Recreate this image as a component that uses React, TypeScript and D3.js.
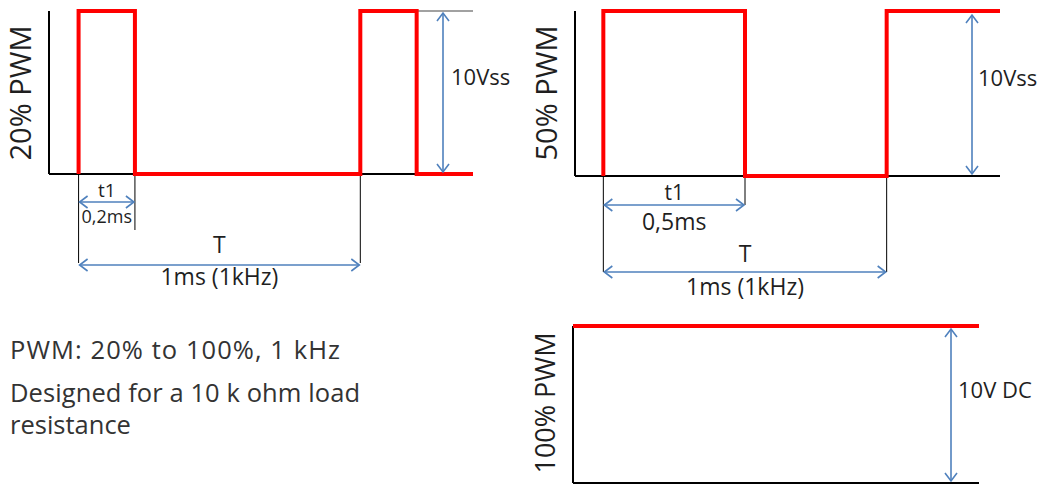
import React from "react";
import * as d3 from "d3";

// ---- data ----
const pwm20Times = [0, 0, 0.2, 1.0, 1.2, 1.4];
const pwm20Levels = [0, 10, 0, 10, 0, 0];
const pwm50Times = [0, 0, 0.5, 1.0, 1.4];
const pwm50Levels = [0, 10, 0, 10, 10];
const pwm100Times = [0, 1];
const pwm100Levels = [10, 10];

const panelLabels = ["20% PWM", "50% PWM", "100% PWM"];
const amplitudeLabels = ["10Vss", "10Vss", "10V DC"];
const dutyLabels = ["0,2ms", "0,5ms"];
const dutyTimes = [0.2, 0.5];
const periodLabel = "1ms (1kHz)";
const noteLines = ["PWM: 20% to 100%, 1 kHz", "Designed for a 10 k ohm load", "resistance"];
const noteWidths = [330, 350, 0];

const RED = "#ff0000";
const BLUE = "#4f81bd";
const INK = "#1f1f1f";
const FONT = "'Open Sans', 'DejaVu Sans', sans-serif";

type Pt = { t: number; v: number };
const toPts = (ts: number[], vs: number[]): Pt[] => ts.map((t, i) => ({ t, v: vs[i] }));

function Chevron({ x, y, dir }: { x: number; y: number; dir: "up" | "down" | "left" | "right" }) {
  const L = 8, W = 6;
  let d = "";
  if (dir === "up") d = `M${x - W},${y + L}L${x},${y}L${x + W},${y + L}`;
  if (dir === "down") d = `M${x - W},${y - L}L${x},${y}L${x + W},${y - L}`;
  if (dir === "left") d = `M${x + L},${y - W}L${x},${y}L${x + L},${y + W}`;
  if (dir === "right") d = `M${x - L},${y - W}L${x},${y}L${x - L},${y + W}`;
  return <path d={d} fill="none" stroke={BLUE} strokeWidth={1.6} />;
}

function HArrow({ x1, x2, y }: { x1: number; x2: number; y: number }) {
  return (
    <g>
      <line x1={x1} x2={x2} y1={y} y2={y} stroke={BLUE} strokeWidth={1.6} />
      <Chevron x={x1} y={y} dir="left" />
      <Chevron x={x2} y={y} dir="right" />
    </g>
  );
}

function VArrow({ x, y1, y2 }: { x: number; y1: number; y2: number }) {
  return (
    <g>
      <line x1={x} x2={x} y1={y1} y2={y2} stroke={BLUE} strokeWidth={1.6} />
      <Chevron x={x} y={y1} dir="up" />
      <Chevron x={x} y={y2} dir="down" />
    </g>
  );
}

function RotLabel({ x, y, text, size }: { x: number; y: number; text: string; size: number }) {
  return (
    <text
      transform={`translate(${x},${y}) rotate(-90)`}
      textAnchor="middle"
      fontFamily={FONT}
      fontSize={size}
      fill={INK}
    >
      {text}
    </text>
  );
}

export default function App() {
  // panel 1: 20%
  const x1 = d3.scaleLinear().domain([-0.105, 1.4]).range([49, 473]);
  const y1 = d3.scaleLinear().domain([0, 10]).range([174, 11]);
  const line1 = d3
    .line<Pt>()
    .x((d) => x1(d.t))
    .y((d) => y1(d.v))
    .curve(d3.curveStepAfter);

  // panel 2: 50%
  const x2 = d3.scaleLinear().domain([-0.1, 1.4]).range([575, 1000]);
  const y2 = d3.scaleLinear().domain([0, 10]).range([176, 11]);
  const line2 = d3
    .line<Pt>()
    .x((d) => x2(d.t))
    .y((d) => y2(d.v))
    .curve(d3.curveStepAfter);

  // panel 3: 100%
  const x3 = d3.scaleLinear().domain([0, 1]).range([573, 979]);
  const y3 = d3.scaleLinear().domain([0, 10]).range([483, 326]);
  const line3 = d3
    .line<Pt>()
    .x((d) => x3(d.t))
    .y((d) => y3(d.v));

  const p1 = toPts(pwm20Times, pwm20Levels);
  const p2 = toPts(pwm50Times, pwm50Levels);
  const p3 = toPts(pwm100Times, pwm100Levels);

  return (
    <svg
      width={1048}
      height={485}
      style={{ position: "absolute", left: 0, top: 0, background: "#fff" }}
    >
      <rect width={1048} height={485} fill="#fff" />

      {/* ---------- Panel 1 ---------- */}
      <g>
        <line x1={x1.range()[0]} x2={x1.range()[0]} y1={y1(10)} y2={y1(0)} stroke="#000" strokeWidth={2} />
        <line x1={x1.range()[0]} x2={x1.range()[1]} y1={y1(0)} y2={y1(0)} stroke="#000" strokeWidth={2} />
        <line x1={x1(1.2)} x2={x1.range()[1]} y1={y1(10)} y2={y1(10)} stroke="#444" strokeWidth={1.2} />
        {/* extension lines */}
        <line x1={x1(0)} x2={x1(0)} y1={y1(0)} y2={263} stroke="#000" strokeWidth={1} />
        <line x1={x1(dutyTimes[0])} x2={x1(dutyTimes[0])} y1={y1(0)} y2={230} stroke="#000" strokeWidth={1} />
        <line x1={x1(1)} x2={x1(1)} y1={y1(0)} y2={263} stroke="#000" strokeWidth={1} />
        <path d={line1(p1) || ""} fill="none" stroke={RED} strokeWidth={4} strokeLinejoin="miter" />
        <VArrow x={443} y1={13} y2={172} />
        <text x={451} y={85} fontFamily={FONT} fontSize={22} fill={INK}>{amplitudeLabels[0]}</text>
        <HArrow x1={x1(0) + 1} x2={x1(dutyTimes[0]) - 1} y={202} />
        <text x={(x1(0) + x1(dutyTimes[0])) / 2} y={197} textAnchor="middle" fontFamily={FONT} fontSize={19} fill={INK}>t1</text>
        <text x={(x1(0) + x1(dutyTimes[0])) / 2} y={223} textAnchor="middle" fontFamily={FONT} fontSize={18} fill={INK}>{dutyLabels[0]}</text>
        <HArrow x1={x1(0) + 1} x2={x1(1) - 1} y={265} />
        <text x={(x1(0) + x1(1)) / 2} y={253} textAnchor="middle" fontFamily={FONT} fontSize={23} fill={INK}>T</text>
        <text x={(x1(0) + x1(1)) / 2} y={285} textAnchor="middle" fontFamily={FONT} fontSize={23} fill={INK}>{periodLabel}</text>
        <RotLabel x={31} y={93} text={panelLabels[0]} size={29} />
      </g>

      {/* ---------- Panel 2 ---------- */}
      <g>
        <line x1={x2.range()[0]} x2={x2.range()[0]} y1={y2(10)} y2={y2(0)} stroke="#000" strokeWidth={2} />
        <line x1={x2.range()[0]} x2={x2.range()[1]} y1={y2(0)} y2={y2(0)} stroke="#000" strokeWidth={2} />
        <line x1={x2(0)} x2={x2(0)} y1={y2(0)} y2={272} stroke="#000" strokeWidth={1} />
        <line x1={x2(dutyTimes[1])} x2={x2(dutyTimes[1])} y1={y2(0)} y2={205} stroke="#000" strokeWidth={1} />
        <line x1={x2(1)} x2={x2(1)} y1={y2(0)} y2={272} stroke="#000" strokeWidth={1} />
        <path d={line2(p2) || ""} fill="none" stroke={RED} strokeWidth={4} strokeLinejoin="miter" />
        <VArrow x={972} y1={15} y2={174} />
        <text x={978} y={86} fontFamily={FONT} fontSize={22} fill={INK}>{amplitudeLabels[1]}</text>
        <HArrow x1={x2(0) + 1} x2={x2(dutyTimes[1]) - 1} y={205} />
        <text x={(x2(0) + x2(dutyTimes[1])) / 2} y={200} textAnchor="middle" fontFamily={FONT} fontSize={21} fill={INK}>t1</text>
        <text x={(x2(0) + x2(dutyTimes[1])) / 2} y={230} textAnchor="middle" fontFamily={FONT} fontSize={23} fill={INK}>{dutyLabels[1]}</text>
        <HArrow x1={x2(0) + 1} x2={x2(1) - 1} y={272} />
        <text x={(x2(0) + x2(1)) / 2} y={262} textAnchor="middle" fontFamily={FONT} fontSize={23} fill={INK}>T</text>
        <text x={(x2(0) + x2(1)) / 2} y={295} textAnchor="middle" fontFamily={FONT} fontSize={23} fill={INK}>{periodLabel}</text>
        <RotLabel x={557} y={93} text={panelLabels[1]} size={29} />
      </g>

      {/* ---------- Panel 3 ---------- */}
      <g>
        <line x1={x3.range()[0]} x2={x3.range()[0]} y1={y3(10)} y2={y3(0)} stroke="#000" strokeWidth={2} />
        <line x1={x3.range()[0]} x2={x3.range()[1]} y1={y3(0)} y2={y3(0)} stroke="#000" strokeWidth={2} />
        <path d={line3(p3) || ""} fill="none" stroke={RED} strokeWidth={4} />
        <VArrow x={951} y1={329} y2={481} />
        <text x={958} y={398} fontFamily={FONT} fontSize={22} fill={INK}>{amplitudeLabels[2]}</text>
        <RotLabel x={555} y={403} text={panelLabels[2]} size={27} />
      </g>

      {/* ---------- Notes ---------- */}
      <g fontFamily={FONT} fill="#333" fontSize={25.5}>
        <text x={10} y={359} textLength={noteWidths[0]} lengthAdjust="spacing">{noteLines[0]}</text>
        <text x={10} y={402} textLength={noteWidths[1]} lengthAdjust="spacing">{noteLines[1]}</text>
        <text x={10} y={434}>{noteLines[2]}</text>
      </g>
    </svg>
  );
}
